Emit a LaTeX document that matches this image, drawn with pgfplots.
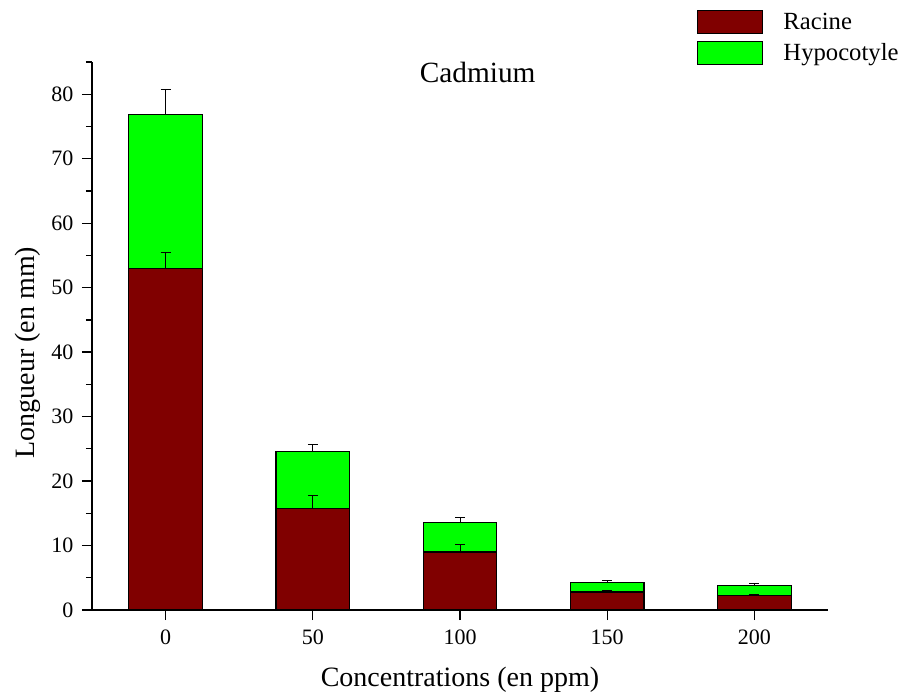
\documentclass[border=0pt]{standalone}
\usepackage{fontspec}
\setmainfont{Liberation Serif}
\usepackage{pgfplots}
\pgfplotsset{compat=1.18}
\definecolor{racine}{RGB}{128,0,0}
\definecolor{hypo}{RGB}{0,255,0}

\begin{document}
\begin{tikzpicture}
\begin{axis}[
  scale only axis, width=552pt, height=411pt,
  xmin=-0.5, xmax=4.5, ymin=0, ymax=85,
  axis x line*=bottom, axis y line*=left,
  axis line style={line width=1pt},
  xtick={0,1,2,3,4}, xticklabels={0,50,100,150,200},
  ytick={0,10,...,80}, minor ytick={5,15,...,85},
  tick align=outside,
  major tick length=7.5pt, minor tick length=4.5pt,
  tick style={line width=1pt, black},
  ticklabel style={font=\fontsize{16.5}{19}\selectfont},
  xticklabel style={yshift=-4pt},
  yticklabel style={xshift=-3pt},
  /pgf/number format/assume math mode=true,
  xlabel={Concentrations (en ppm)}, ylabel={Longueur (en mm)},
  label style={font=\fontsize{21}{25}\selectfont},
  xlabel style={at={(axis description cs:0.5,-0.128)}, anchor=center},
  ylabel style={at={(axis description cs:-0.087,0.47)}, anchor=center},
  ybar, bar width=0.5, bar shift=0pt,
  legend style={at={(axis description cs:0.822,1.095)}, anchor=north west,
    draw=none, fill=none, inner sep=0pt,
    font=\fontsize{18.5}{22}\selectfont, row sep=5pt},
  legend cell align=left,
  legend image code/.code={%
    \draw[#1,line width=0.9pt] (0pt,-8.6pt) rectangle (48.75pt,8.6pt);
    \path (62pt,0pt);},
  clip=false,
]
% full height (racine + hypocotyle), with error on the total
\addplot[forget plot, fill=hypo, draw=black, line width=0.9pt,
  error bars/.cd, y dir=plus, y explicit,
  error bar style={line width=0.6pt, black},
  error mark options={rotate=90, line width=0.6pt, mark size=3.75pt, black}]
  coordinates {(0,76.9) +- (0,3.8) (1,24.6) +- (0,1.1) (2,13.6) +- (0,0.7)
               (3,4.25) +- (0,0.3) (4,3.8) +- (0,0.35)};
% racine
\addplot[forget plot, fill=racine, draw=black, line width=0.9pt,
  error bars/.cd, y dir=plus, y explicit,
  error bar style={line width=0.6pt, black},
  error mark options={rotate=90, line width=0.6pt, mark size=3.75pt, black}]
  coordinates {(0,53.0) +- (0,2.5) (1,15.8) +- (0,2.0) (2,9.0) +- (0,1.2)
               (3,2.8) +- (0,0.25) (4,2.25) +- (0,0.18)};
\addlegendimage{fill=racine, draw=black}
\addlegendentry{Racine}
\addlegendimage{fill=hypo, draw=black}
\addlegendentry{Hypocotyle}
\node[font=\fontsize{22}{26}\selectfont] at (axis cs:2.12,83.4) {Cadmium};
\end{axis}
\pgfresetboundingbox
\path (-69pt,-65.25pt) rectangle (610.5pt,457.5pt);
\end{tikzpicture}
\end{document}
